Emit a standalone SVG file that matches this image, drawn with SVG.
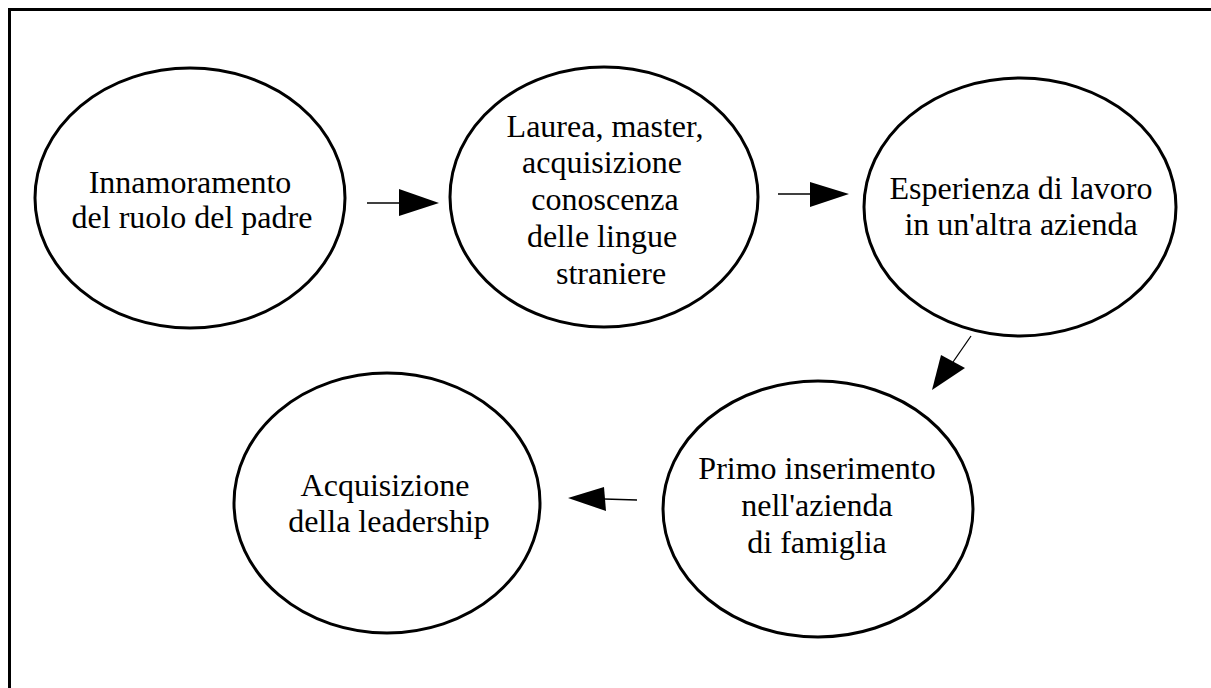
<svg xmlns="http://www.w3.org/2000/svg" width="1211" height="688" viewBox="0 0 1211 688">
<style>
.frame{fill:none;stroke:#000;stroke-width:3}
.node{fill:#fff;stroke:#000;stroke-width:3}
.lbl{font-family:"Liberation Serif","Times New Roman",serif;font-size:32px;fill:#000;text-anchor:middle}
.conn line{stroke:#000;stroke-width:1.3}
.conn polygon{fill:#000;stroke:none}
</style>
<rect width="1211" height="688" fill="#fff"/>
<rect class="frame" x="9.5" y="9.5" width="1400" height="900"/>
<g id="n1">
<ellipse class="node" cx="190" cy="198" rx="155" ry="130"/>
<text class="lbl" x="190" y="193">Innamoramento</text>
<text class="lbl" x="192" y="228">del ruolo del padre</text>
</g>
<g id="n2">
<ellipse class="node" cx="604" cy="197" rx="154" ry="130"/>
<text class="lbl" x="605" y="137">Laurea, master,</text>
<text class="lbl" x="602" y="173">acquisizione</text>
<text class="lbl" x="605" y="210">conoscenza</text>
<text class="lbl" x="602" y="247">delle lingue</text>
<text class="lbl" x="611" y="284">straniere</text>
</g>
<g id="n3">
<ellipse class="node" cx="1020" cy="207" rx="156" ry="129"/>
<text class="lbl" x="1021" y="199">Esperienza di lavoro</text>
<text class="lbl" x="1021" y="235">in un'altra azienda</text>
</g>
<g id="n4">
<ellipse class="node" cx="818" cy="509" rx="155" ry="128"/>
<text class="lbl" x="817" y="479">Primo inserimento</text>
<text class="lbl" x="817" y="516">nell'azienda</text>
<text class="lbl" x="817" y="553">di famiglia</text>
</g>
<g id="n5">
<ellipse class="node" cx="387" cy="503" rx="153" ry="130"/>
<text class="lbl" x="385" y="496">Acquisizione</text>
<text class="lbl" x="389" y="532">della leadership</text>
</g>
<g id="connectors" class="conn">
<line x1="367" y1="203" x2="401" y2="203"/>
<polygon points="399,189 439,203 399,216"/>
<line x1="778" y1="194" x2="811" y2="194"/>
<polygon points="810,182 849,194 810,207"/>
<line x1="971" y1="336" x2="953" y2="362"/>
<polygon points="941,355 965,368 932,390"/>
<line x1="637" y1="500" x2="604" y2="499"/>
<polygon points="604,487 606,511 568,498"/>
</g>
</svg>
